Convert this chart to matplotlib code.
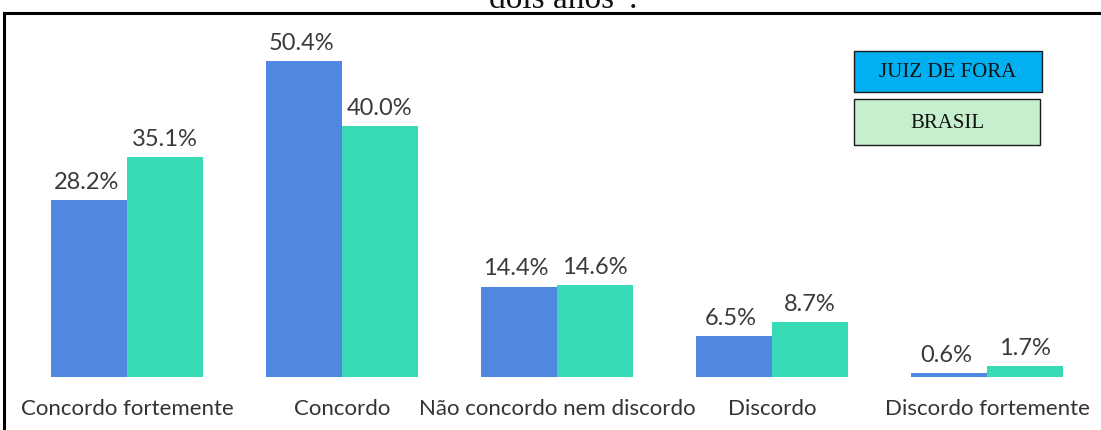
import matplotlib
matplotlib.use("Agg")
import matplotlib.pyplot as plt
from matplotlib.patches import Rectangle
from matplotlib.lines import Line2D
import numpy as np

categories = ["Concordo fortemente", "Concordo", "Não concordo nem discordo",
              "Discordo", "Discordo fortemente"]
juiz_de_fora = [28.2, 50.4, 14.4, 6.5, 0.6]
brasil = [35.1, 40.0, 14.6, 8.7, 1.7]
series_names = ["JUIZ DE FORA", "BRASIL"]

W, H = 1101, 431
fig = plt.figure(figsize=(W / 100, H / 100), dpi=100)

# axes over the whole figure; limits chosen so group i sits at pixel 127 + 215*i
px_per_cat = 215.0
x0_px = 127.0
base_px = 378.0       # baseline, from top
px_per_unit = 6.27
ax = fig.add_axes([0, 0, 1, 1])
ax.set_xlim((0 - x0_px) / px_per_cat, (W - x0_px) / px_per_cat)
ax.set_ylim(-(H - base_px) / px_per_unit, base_px / px_per_unit)
ax.axis("off")

x = np.arange(len(categories))
w = 76 / px_per_cat
blue = "#5087e1"
green = "#38dab6"
ax.bar(x - w / 2, juiz_de_fora, w, color=blue)
ax.bar(x + w / 2, brasil, w, color=green)

val_font = dict(family=["Lato", "DejaVu Sans"], fontsize=17, color="#3a3a3a")
cat_font = dict(family=["Lato", "DejaVu Sans"], fontsize=16, color="#333333")
for xi, v in zip(x, juiz_de_fora):
    ax.annotate(f"{v:.1f}%", (xi - w / 2, v), xytext=(-2, 6), textcoords="offset points",
                ha="center", va="bottom", **val_font)
for xi, v in zip(x, brasil):
    ax.annotate(f"{v:.1f}%", (xi + w / 2, v), xytext=(0, 6), textcoords="offset points",
                ha="center", va="bottom", **val_font)

for xi, c in zip(x, categories):
    ax.annotate(c, (xi, 0), xytext=(0, -22), textcoords="offset points",
                ha="center", va="center", **cat_font)

# frame lines (top and left only visible in the crop)
fig.add_artist(Line2D([4 / W, 4 / W], [0, 1 - 14 / H], color="black", lw=2.2,
                      transform=fig.transFigure))
fig.add_artist(Line2D([4 / W, 1], [1 - 14 / H, 1 - 14 / H], color="black", lw=2.2,
                      transform=fig.transFigure))

# cut-off title from the page above
fig.text(563 / W, 1 - 8 / H, "dois anos”.", ha="center", va="baseline",
         family="Liberation Serif", fontsize=24, color="#111111")

# legend boxes
legend_colors = ["#00b0f0", "#c6efcd"]
boxes = [(854, 52, 188, 41), (854, 100, 186, 46)]
for (bx, by, bw, bh), col, name in zip(boxes, legend_colors, series_names):
    fig.add_artist(Rectangle((bx / W, 1 - (by + bh) / H), bw / W, bh / H,
                             facecolor=col, edgecolor="#1a1a1a", lw=1.0,
                             transform=fig.transFigure))
    fig.text((bx + bw / 2) / W, 1 - (by + bh / 2) / H, name, ha="center", va="center",
             family="Liberation Serif", fontsize=15, color="#111111")

fig.savefig("out.png", dpi=100)
